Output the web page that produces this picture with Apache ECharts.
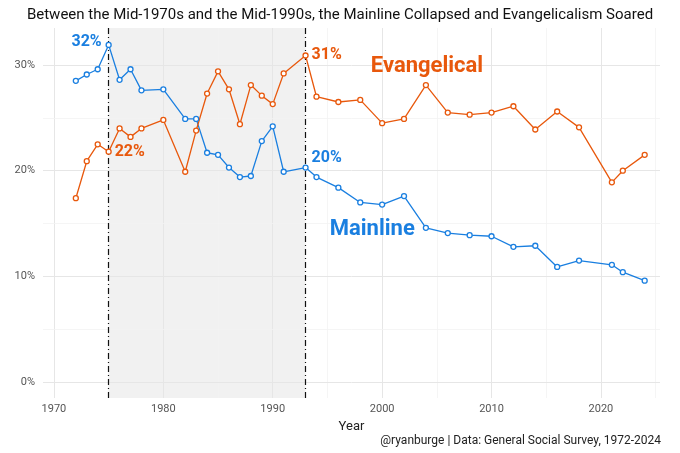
<!DOCTYPE html><html><head><meta charset="utf-8">
<script src="https://cdn.jsdelivr.net/npm/echarts@6/dist/echarts.min.js"></script>
<style>html,body{margin:0;padding:0;background:#fff}#c{width:680px;height:453px}</style></head><body><div id="c"></div>
<script>
const years=[1972,1973,1974,1975,1976,1977,1978,1980,1982,1983,1984,1985,1986,1987,1988,1989,1990,1991,1993,1994,1996,1998,2000,2002,2004,2006,2008,2010,2012,2014,2016,2018,2021,2022,2024];
const mainline=[28.5,29.1,29.6,31.9,28.6,29.6,27.6,27.7,24.9,24.9,21.7,21.5,20.3,19.4,19.5,22.8,24.2,19.9,20.3,19.4,18.4,17.0,16.8,17.6,14.6,14.1,13.9,13.8,12.8,12.9,10.9,11.5,11.1,10.4,9.6];
const evangelical=[17.4,20.9,22.5,21.8,24.0,23.2,24.0,24.8,19.9,23.8,27.3,29.4,27.7,24.4,28.1,27.1,26.3,29.2,30.9,27.0,26.5,26.7,24.5,24.9,28.1,25.5,25.3,25.5,26.1,23.9,25.6,24.1,18.9,20.0,21.5];
const xTicks=[1970,1980,1990,2000,2010,2020];
const xMinor=[1975,1985,1995,2005,2015,2025];
const yTicks=[0,10,20,30];
const B='#1a7fe0',O='#e8580c',F='Roboto, sans-serif';
const ch=echarts.init(document.getElementById('c'));
const vlines=xTicks.map(v=>({xAxis:v,lineStyle:{color:'#e6e6e6',width:1,type:'solid'}})).concat(xMinor.map(v=>({xAxis:v,lineStyle:{color:'#f2f2f2',width:0.8,type:'solid'}})));
ch.setOption({
 backgroundColor:'#fff',
 title:[{text:'Between the Mid-1970s and the Mid-1990s, the Mainline Collapsed and Evangelicalism Soared',left:'center',top:3,textStyle:{fontFamily:F,fontWeight:'normal',fontSize:15,color:'#111'}},
  {text:'@ryanburge | Data: General Social Survey, 1972-2024',right:14,top:430,textStyle:{fontFamily:F,fontWeight:'normal',fontSize:12,color:'#222'}}],
 grid:{left:43,right:20,top:28,bottom:55},
 xAxis:{type:'value',min:1969,max:2025.4,name:'Year',nameLocation:'middle',nameGap:18,nameTextStyle:{fontFamily:F,fontSize:13,color:'#222'},
  axisLine:{show:false},axisTick:{show:false},splitLine:{show:false},
  axisLabel:{customValues:xTicks,formatter:v=>String(v),fontFamily:F,fontSize:11,color:'#555',margin:6}},
 yAxis:{type:'value',min:-1.5,max:33.5,axisLine:{show:false},axisTick:{show:false},splitLine:{show:false},
  axisLabel:{customValues:yTicks,formatter:v=>v+'%',fontFamily:F,fontSize:11,color:'#555'}},
 series:[
  {type:'line',data:[],silent:true,
   markArea:{silent:true,itemStyle:{color:'rgba(200,200,200,0.25)'},data:[[{xAxis:1975,yAxis:-1.5},{xAxis:1993,yAxis:33.5}]]},
   markLine:{silent:true,symbol:'none',label:{show:false},data:vlines.concat(
     yTicks.map(v=>({yAxis:v,lineStyle:{color:'#e6e6e6',width:1,type:'solid'}})),
     [5,15,25].map(v=>({yAxis:v,lineStyle:{color:'#f2f2f2',width:0.8,type:'solid'}})))}},
  {type:'line',data:[],silent:true,z:5,markLine:{silent:true,symbol:'none',label:{show:false},
   lineStyle:{color:'#111',width:1.2,type:[6,3,1,3]},data:[{xAxis:1975},{xAxis:1993}]}},
  {name:'Mainline',type:'line',data:years.map((y,i)=>[y,mainline[i]]),z:10,lineStyle:{width:1.3,color:B},
   symbol:'circle',symbolSize:5,itemStyle:{color:'#fff',borderColor:B,borderWidth:1.3},
   markPoint:{symbol:'circle',symbolSize:0,itemStyle:{color:'transparent'},data:[
    {coord:[1975,31.9],label:{show:true,formatter:'32%',position:'left',offset:[-2,-3],color:B,fontFamily:F,fontWeight:'bold',fontSize:16}},
    {coord:[1993,20.3],label:{show:true,formatter:'20%',position:'right',offset:[1,-10],color:B,fontFamily:F,fontWeight:'bold',fontSize:16}},
    {coord:[1999.1,14.4],label:{show:true,formatter:'Mainline',color:B,fontFamily:F,fontWeight:'bold',fontSize:22}}]}},
  {name:'Evangelical',type:'line',data:years.map((y,i)=>[y,evangelical[i]]),z:10,lineStyle:{width:1.3,color:O},
   symbol:'circle',symbolSize:5,itemStyle:{color:'#fff',borderColor:O,borderWidth:1.3},
   markPoint:{symbol:'circle',symbolSize:0,itemStyle:{color:'transparent'},data:[
    {coord:[1975,21.8],label:{show:true,formatter:'22%',position:'right',offset:[1,0],color:O,fontFamily:F,fontWeight:'bold',fontSize:16}},
    {coord:[1993,30.9],label:{show:true,formatter:'31%',position:'right',offset:[1,0],color:O,fontFamily:F,fontWeight:'bold',fontSize:16}},
    {coord:[2004.1,29.9],label:{show:true,formatter:'Evangelical',color:O,fontFamily:F,fontWeight:'bold',fontSize:22}}]}}
 ]
});
</script></body></html>
